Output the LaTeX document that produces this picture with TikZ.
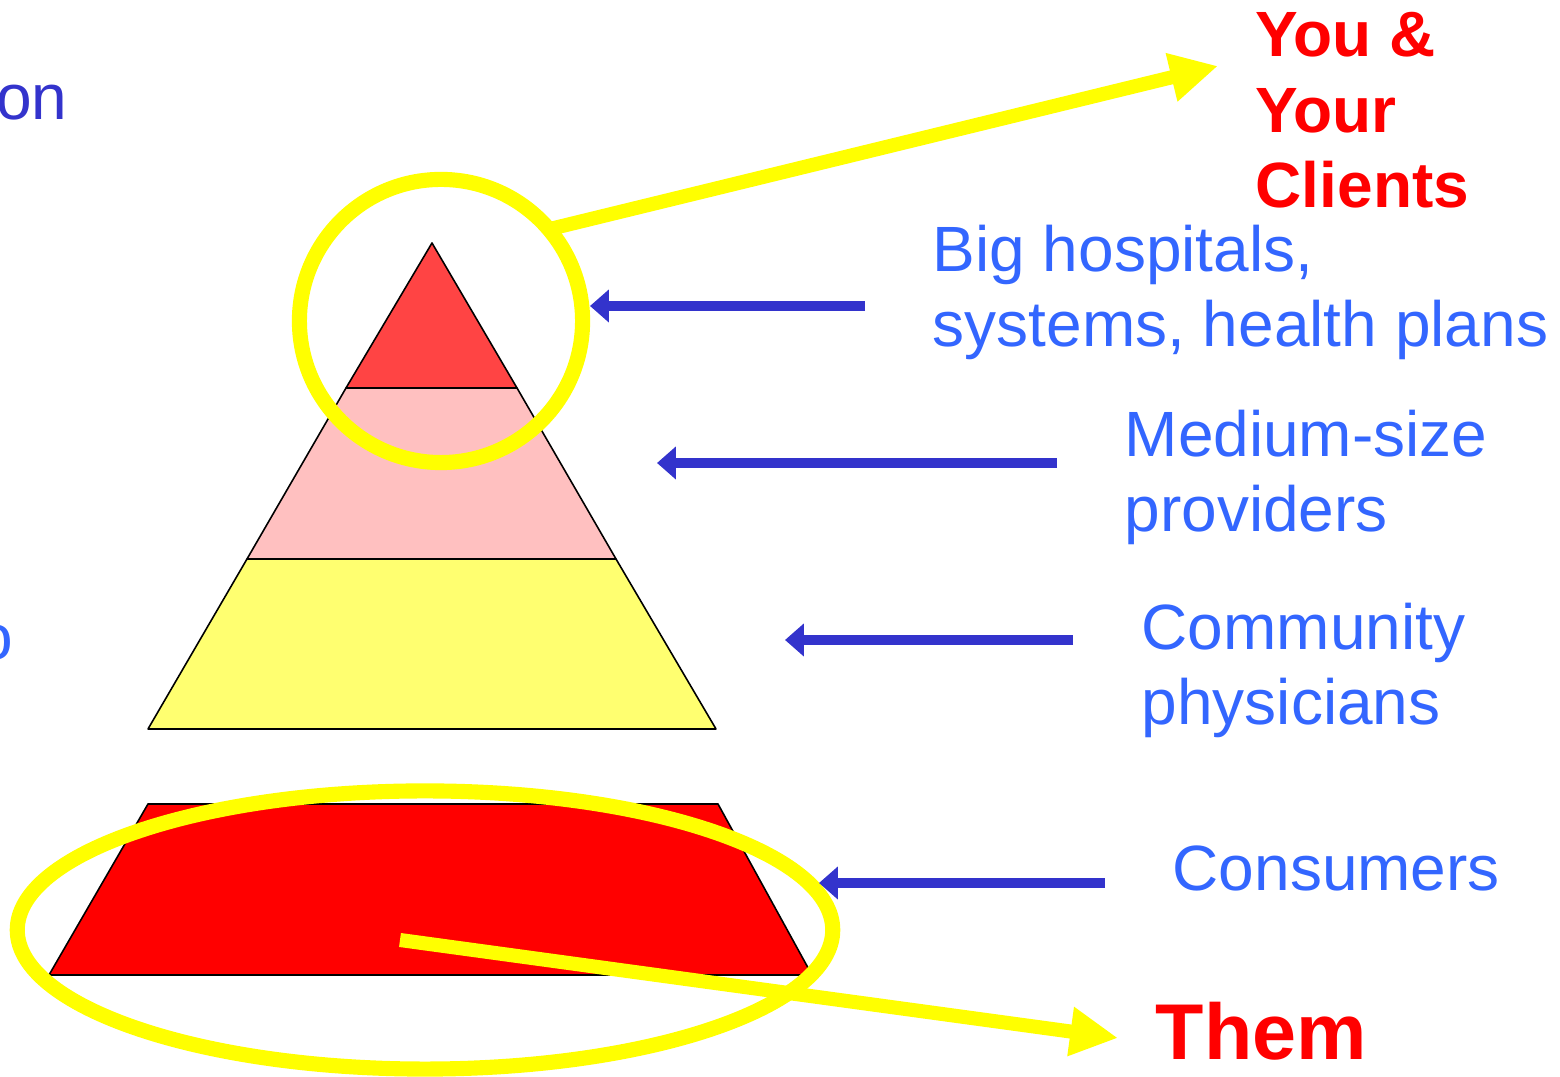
\documentclass[tikz,border=0pt]{standalone}
\usepackage{fontspec}
\setmainfont{Liberation Sans}
\usetikzlibrary{arrows.meta}
\definecolor{darkblue}{HTML}{3333CC}
\definecolor{lblue}{HTML}{3366FF}
\definecolor{ylw}{HTML}{FFFF00}
\definecolor{topred}{HTML}{FF4444}
\definecolor{pinkband}{HTML}{FFC0C0}
\definecolor{yelband}{HTML}{FFFF70}
\tikzset{
  band/.style={draw=black, line width=0.45pt, line join=round},
  lbl/.style={text=lblue, font=\fontsize{18.2}{21.6}\selectfont, anchor=base west, inner sep=0pt, align=left},
  redlbl/.style={text=red, font=\fontsize{18.2}{21.5}\selectfont\bfseries, anchor=base west, inner sep=0pt, align=left},
  bluearrow/.style={draw=darkblue, line width=2.85pt, -{Triangle[length=5.4pt, width=9.1pt]}},
  yarrow/.style={draw=ylw, line width=4pt, -{Triangle[length=13.6pt, width=13.2pt]}},
  ring/.style={draw=ylw, line width=4.3pt}
}
\begin{document}
\begin{tikzpicture}[x=0.01cm, y=-0.01cm]
\useasboundingbox (0,0) rectangle (1560,1077);
\clip (0,0) rectangle (1560,1077);
% pyramid
\filldraw[band, fill=topred] (432,243) -- (517,388) -- (346,388) -- cycle;
\filldraw[band, fill=pinkband] (346,388) -- (517,388) -- (616,559) -- (247,559) -- cycle;
\filldraw[band, fill=yelband] (247,559) -- (616,559) -- (716,729) -- (148,729) -- cycle;
\filldraw[band, fill=red] (148,804) -- (718,804) -- (812,975) -- (49,975) -- cycle;
% coordinates
\coordinate (topring) at (441,321);
\coordinate (botring) at (425,930);
\coordinate (a1s) at (865,306); \coordinate (a1e) at (590,306);
\coordinate (a2s) at (1057,463); \coordinate (a2e) at (657,463);
\coordinate (a3s) at (1073,640); \coordinate (a3e) at (785,640);
\coordinate (a4s) at (1105,883); \coordinate (a4e) at (819,883);
\coordinate (y1s) at (550,229); \coordinate (y1e) at (1218,66);
\coordinate (y2s) at (400,940); \coordinate (y2e) at (1118,1038);
% rings
\draw[ring] (topring) circle (1.415cm);
\draw[ring] (botring) ellipse [x radius=4.075cm, y radius=1.39cm];
% yellow arrows
\draw[yarrow] (y1s) -- (y1e);
\draw[yarrow] (y2s) -- (y2e);
% blue arrows
\draw[bluearrow] (a1s) -- (a1e);
\draw[bluearrow] (a2s) -- (a2e);
\draw[bluearrow] (a3s) -- (a3e);
\draw[bluearrow] (a4s) -- (a4e);
% labels (base anchor = baseline of the last line)
\node[redlbl] (you) at (1255,208) {You \&\\Your\\Clients};
\node[lbl] (big) at (932,347) {Big hospitals,\\systems, health plans};
\node[lbl] (med) at (1124,532) {Medium-size\\providers};
\node[lbl] (com) at (1141,725) {Community\\physicians};
\node[lbl] (con) at (1172,891) {Consumers};
\node[text=red, font=\fontsize{22.5}{27}\selectfont\bfseries, anchor=base west, inner sep=0pt] (them) at (1155,1060) {Them};
\node[text=darkblue, font=\fontsize{18.2}{21.6}\selectfont, anchor=base east, inner sep=0pt] (on) at (68,120) {on};
\node[text=lblue, font=\fontsize{18.2}{21.6}\selectfont, anchor=base east, inner sep=0pt] (to) at (14,660) {o};
\end{tikzpicture}
\end{document}
